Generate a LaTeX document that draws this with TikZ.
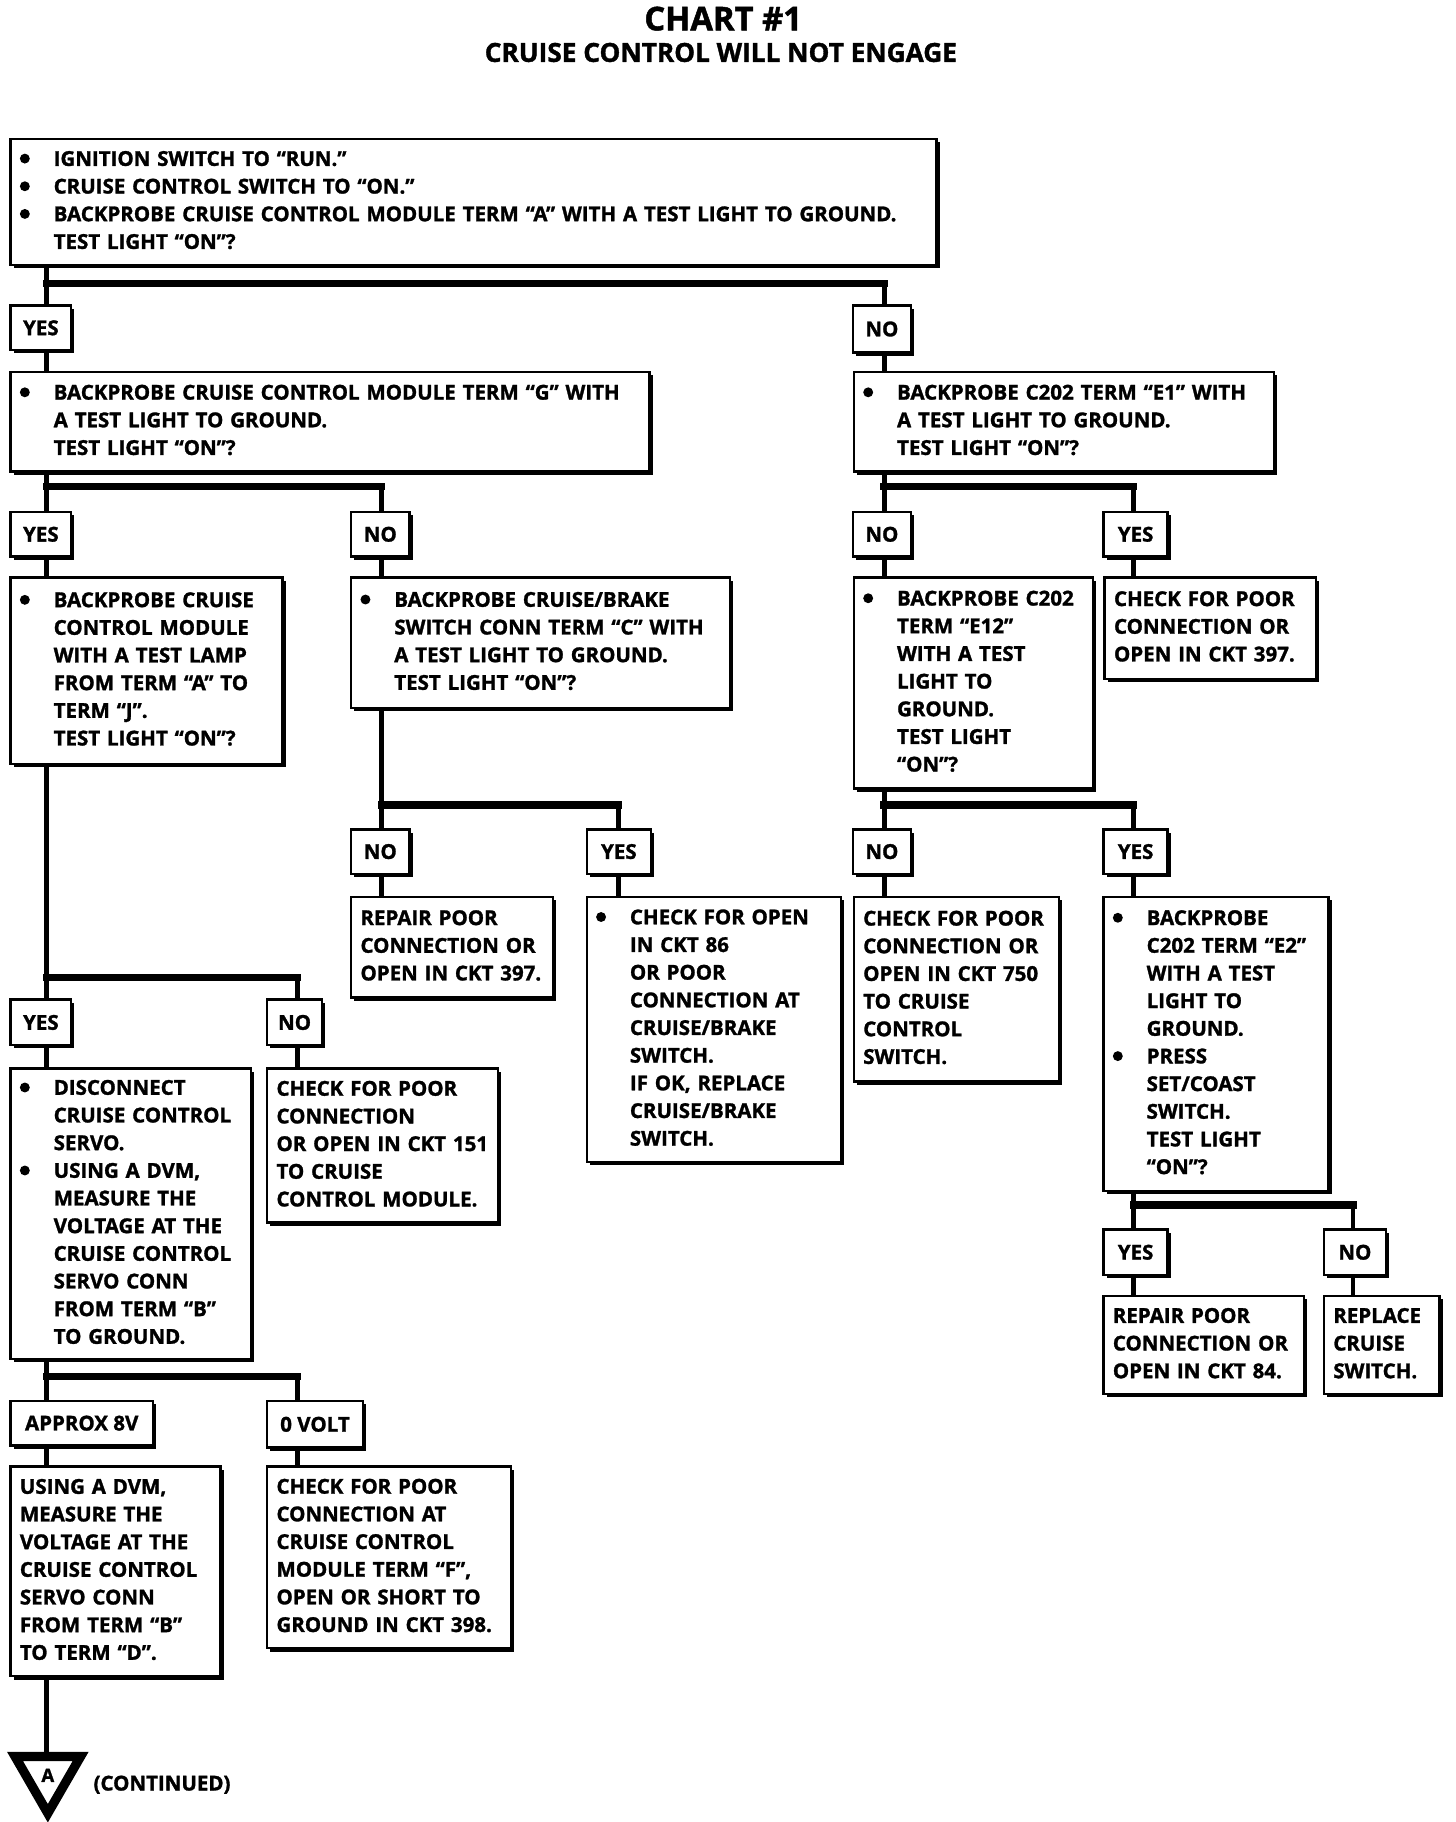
\documentclass[tikz,border=0pt]{standalone}
\usepackage{fontspec}
\setmainfont{Open Sans}[BoldFeatures={FakeBold=1.4}]
\usetikzlibrary{shapes.geometric,shadows}

\newcommand{\blk}[1]{\makebox[\linewidth][l]{\begin{tabular}{@{}l@{}}#1\end{tabular}}}
\newcommand{\bu}{\makebox[0.58cm][l]{\tikz[baseline=0pt]\fill (0.085cm,0.125cm) circle (0.085cm);}}
\newcommand{\ind}{\hspace*{0.58cm}}

\begin{document}
\begin{tikzpicture}[x=0.02cm,y=-0.02cm]
        \tikzstyle{box}=[draw=black,line width=1.2pt,fill=white,anchor=north west,inner xsep=0.16cm,inner ysep=0pt,font=\bfseries\fontsize{10}{13.5}\selectfont,drop shadow={shadow xshift=1.6pt,shadow yshift=-1.6pt,opacity=1,fill=black}]
        \tikzstyle{answer}=[box,align=center,inner xsep=0pt,text width=]
        \tikzstyle{line}=[draw=black,line width=2.3pt]
        \tikzstyle{bar}=[draw=black,line width=3.6pt,line cap=rect]

        \useasboundingbox (0,0) rectangle (1248,1562);

        % title
        \node[font=\bfseries\fontsize{16}{18}\selectfont] (chart) at (620,16) {CHART \#1};
        \node[font=\bfseries\fontsize{12.8}{14}\selectfont] (title) at (618,45) {CRUISE CONTROL WILL NOT ENGAGE};

        % columns and junctions
        \coordinate (ax) at (40,0);
        \coordinate (bx) at (255,0);
        \coordinate (cx) at (327,0);
        \coordinate (dx) at (530,0);
        \coordinate (ex) at (758,0);
        \coordinate (fx) at (972,0);
        \coordinate (gx) at (1160,0);
        \coordinate (j1) at (40,243);
        \coordinate (j2) at (40,417);
        \coordinate (j3) at (758,417);
        \coordinate (j4) at (327,690);
        \coordinate (j5) at (758,690);
        \coordinate (j6) at (40,838);
        \coordinate (j7) at (40,1180);
        \coordinate (j8) at (972,1033);

        % steps
        \node [box,minimum width=15.88cm,minimum height=2.16cm,text width=15.56cm] (top) at (8,118) {\blk{\bu IGNITION SWITCH TO “RUN.”\\ \bu CRUISE CONTROL SWITCH TO “ON.”\\ \bu BACKPROBE CRUISE CONTROL MODULE TERM “A” WITH A TEST LIGHT TO GROUND.\\ \ind TEST LIGHT “ON”?}};
        \node [box,minimum width=10.96cm,minimum height=1.70cm,text width=10.64cm] (g) at (8,318) {\blk{\bu BACKPROBE CRUISE CONTROL MODULE TERM “G” WITH\\ \ind A TEST LIGHT TO GROUND.\\ \ind TEST LIGHT “ON”?}};
        \node [box,minimum width=7.20cm,minimum height=1.70cm,text width=6.88cm] (e1) at (731,318) {\blk{\bu BACKPROBE C202 TERM “E1” WITH\\ \ind A TEST LIGHT TO GROUND.\\ \ind TEST LIGHT “ON”?}};
        \node [box,minimum width=4.66cm,minimum height=3.20cm,text width=4.34cm] (lamp) at (8,494) {\blk{\bu BACKPROBE CRUISE\\ \ind CONTROL MODULE\\ \ind WITH A TEST LAMP\\ \ind FROM TERM “A” TO\\ \ind TERM “J”.\\ \ind TEST LIGHT “ON”?}};
        \node [box,minimum width=6.50cm,minimum height=2.24cm,text width=6.18cm] (brake) at (300,494) {\blk{\bu BACKPROBE CRUISE/BRAKE\\ \ind SWITCH CONN TERM “C” WITH\\ \ind A TEST LIGHT TO GROUND.\\ \ind TEST LIGHT “ON”?}};
        \node [box,minimum width=4.10cm,minimum height=3.62cm,text width=3.78cm] (e12) at (731,494) {\blk{\bu BACKPROBE C202\\ \ind TERM “E12”\\ \ind WITH A TEST\\ \ind LIGHT TO\\ \ind GROUND.\\ \ind TEST LIGHT\\ \ind “ON”?}};
        \node [box,minimum width=3.62cm,minimum height=1.74cm,text width=3.30cm] (ck397) at (946,494) {\blk{CHECK FOR POOR\\ CONNECTION OR\\ OPEN IN CKT 397.}};
        \node [box,minimum width=3.46cm,minimum height=1.72cm,text width=3.14cm] (rp397) at (300,768) {\blk{REPAIR POOR\\ CONNECTION OR\\ OPEN IN CKT 397.}};
        \node [box,minimum width=4.36cm,minimum height=4.54cm,text width=4.04cm] (ck86) at (502,768) {\blk{\bu CHECK FOR OPEN\\ \ind IN CKT 86\\ \ind OR POOR\\ \ind CONNECTION AT\\ \ind CRUISE/BRAKE\\ \ind SWITCH.\\ \ind IF OK, REPLACE\\ \ind CRUISE/BRAKE\\ \ind SWITCH.}};
        \node [box,minimum width=3.52cm,minimum height=3.16cm,text width=3.20cm] (ck750) at (731,768) {\blk{CHECK FOR POOR\\ CONNECTION OR\\ OPEN IN CKT 750\\ TO CRUISE\\ CONTROL\\ SWITCH.}};
        \node [box,minimum width=3.86cm,minimum height=5.04cm,text width=3.54cm] (e2) at (945,768) {\blk{\bu BACKPROBE\\ \ind C202 TERM “E2”\\ \ind WITH A TEST\\ \ind LIGHT TO\\ \ind GROUND.\\ \bu PRESS\\ \ind SET/COAST\\ \ind SWITCH.\\ \ind TEST LIGHT\\ \ind “ON”?}};
        \node [box,minimum width=4.12cm,minimum height=4.98cm,text width=3.80cm] (servo) at (8,915) {\blk{\bu DISCONNECT\\ \ind CRUISE CONTROL\\ \ind SERVO.\\ \bu USING A DVM,\\ \ind MEASURE THE\\ \ind VOLTAGE AT THE\\ \ind CRUISE CONTROL\\ \ind SERVO CONN\\ \ind FROM TERM “B”\\ \ind TO GROUND.}};
        \node [box,minimum width=3.96cm,minimum height=2.64cm,text width=3.64cm] (ck151) at (228,915) {\blk{CHECK FOR POOR\\ CONNECTION\\ OR OPEN IN CKT 151\\ TO CRUISE\\ CONTROL MODULE.}};
        \node [box,minimum width=3.60cm,minimum height=3.60cm,text width=3.28cm] (dvm) at (8,1256) {\blk{USING A DVM,\\ MEASURE THE\\ VOLTAGE AT THE\\ CRUISE CONTROL\\ SERVO CONN\\ FROM TERM “B”\\ TO TERM “D”.}};
        \node [box,minimum width=4.18cm,minimum height=3.12cm,text width=3.86cm] (ck398) at (228,1256) {\blk{CHECK FOR POOR\\ CONNECTION AT\\ CRUISE CONTROL\\ MODULE TERM “F”,\\ OPEN OR SHORT TO\\ GROUND IN CKT 398.}};
        \node [box,minimum width=3.44cm,minimum height=1.68cm,text width=3.12cm] (rp84) at (945,1110) {\blk{REPAIR POOR\\ CONNECTION OR\\ OPEN IN CKT 84.}};
        \node [box,minimum width=1.98cm,minimum height=1.68cm,text width=1.66cm] (repl) at (1134,1110) {\blk{REPLACE\\ CRUISE\\ SWITCH.}};

        % answers
        \node [answer,minimum width=1.04cm,minimum height=0.76cm] (yes1) at (8,261) {YES};
        \node [answer,minimum width=1.00cm,minimum height=0.80cm] (no1) at (730,261) {NO};
        \node [answer,minimum width=1.04cm,minimum height=0.76cm] (yes2) at (8,438) {YES};
        \node [answer,minimum width=1.00cm,minimum height=0.76cm] (no2) at (300,438) {NO};
        \node [answer,minimum width=1.00cm,minimum height=0.76cm] (no3) at (730,438) {NO};
        \node [answer,minimum width=1.10cm,minimum height=0.76cm] (yes3) at (945,438) {YES};
        \node [answer,minimum width=1.00cm,minimum height=0.76cm] (no4) at (300,710) {NO};
        \node [answer,minimum width=1.10cm,minimum height=0.76cm] (yes4) at (502,710) {YES};
        \node [answer,minimum width=1.00cm,minimum height=0.76cm] (no5) at (730,710) {NO};
        \node [answer,minimum width=1.10cm,minimum height=0.76cm] (yes5) at (945,710) {YES};
        \node [answer,minimum width=1.04cm,minimum height=0.78cm] (yes6) at (8,856) {YES};
        \node [answer,minimum width=0.94cm,minimum height=0.78cm] (no6) at (228,856) {NO};
        \node [answer,minimum width=2.44cm,minimum height=0.76cm] (v8) at (8,1200) {APPROX 8V};
        \node [answer,minimum width=1.64cm,minimum height=0.80cm] (v0) at (228,1200) {0 VOLT};
        \node [answer,minimum width=1.10cm,minimum height=0.78cm] (yes7) at (945,1053) {YES};
        \node [answer,minimum width=1.06cm,minimum height=0.78cm] (no7) at (1134,1053) {NO};

        % continued
        \node [regular polygon,regular polygon sides=3,shape border rotate=180,draw,line width=4.5pt,minimum size=1.3cm,inner sep=0pt,font=\bfseries\fontsize{9}{9}\selectfont] (contA) at (41,1522) {A};
        \node [anchor=west,font=\bfseries\fontsize{10}{11}\selectfont] (cont) at (74,1530) {(CONTINUED)};

        % bars
        \draw[bar] (j1) -- (j1 -| ex);
        \draw[bar] (j2) -- (j2 -| cx);
        \draw[bar] (j3) -- (j3 -| fx);
        \draw[bar] (j4) -- (j4 -| dx);
        \draw[bar] (j5) -- (j5 -| fx);
        \draw[bar] (j6) -- (j6 -| bx);
        \draw[bar] (j7) -- (j7 -| bx);
        \draw[bar] (j8) -- (j8 -| gx);

        % connectors
        \draw[line] (top.south -| ax) -- (yes1.north -| ax);
        \draw[line] (j1 -| ex) -- (no1.north -| ex);
        \draw[line] (yes1.south -| ax) -- (g.north -| ax);
        \draw[line] (no1.south -| ex) -- (e1.north -| ex);
        \draw[line] (g.south -| ax) -- (yes2.north -| ax);
        \draw[line] (j2 -| cx) -- (no2.north -| cx);
        \draw[line] (e1.south -| ex) -- (no3.north -| ex);
        \draw[line] (j3 -| fx) -- (yes3.north -| fx);
        \draw[line] (yes2.south -| ax) -- (lamp.north -| ax);
        \draw[line] (no2.south -| cx) -- (brake.north -| cx);
        \draw[line] (no3.south -| ex) -- (e12.north -| ex);
        \draw[line] (yes3.south -| fx) -- (ck397.north -| fx);
        \draw[line] (brake.south -| cx) -- (no4.north -| cx);
        \draw[line] (j4 -| dx) -- (yes4.north -| dx);
        \draw[line] (e12.south -| ex) -- (no5.north -| ex);
        \draw[line] (j5 -| fx) -- (yes5.north -| fx);
        \draw[line] (no4.south -| cx) -- (rp397.north -| cx);
        \draw[line] (yes4.south -| dx) -- (ck86.north -| dx);
        \draw[line] (no5.south -| ex) -- (ck750.north -| ex);
        \draw[line] (yes5.south -| fx) -- (e2.north -| fx);
        \draw[line] (lamp.south -| ax) -- (yes6.north -| ax);
        \draw[line] (j6 -| bx) -- (no6.north -| bx);
        \draw[line] (yes6.south -| ax) -- (servo.north -| ax);
        \draw[line] (no6.south -| bx) -- (ck151.north -| bx);
        \draw[line] (servo.south -| ax) -- (v8.north -| ax);
        \draw[line] (j7 -| bx) -- (v0.north -| bx);
        \draw[line] (v8.south -| ax) -- (dvm.north -| ax);
        \draw[line] (v0.south -| bx) -- (ck398.north -| bx);
        \draw[line] (e2.south -| fx) -- (yes7.north -| fx);
        \draw[line] (j8 -| gx) -- (no7.north -| gx);
        \draw[line] (yes7.south -| fx) -- (rp84.north -| fx);
        \draw[line] (no7.south -| gx) -- (repl.north -| gx);
        \draw[line] (dvm.south -| ax) -- (contA.north -| ax);
\end{tikzpicture}
\end{document}
